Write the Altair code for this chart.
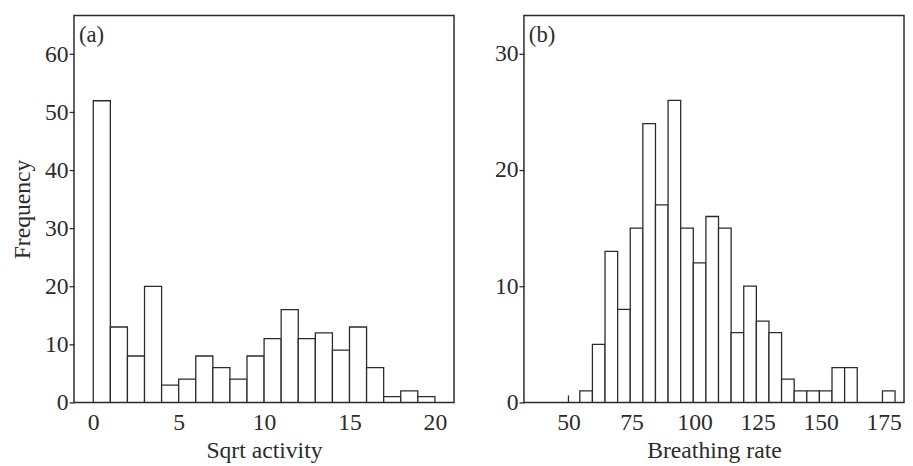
import altair as alt
import pandas as pd

FONT = "Liberation Serif"
INK = "#2b2b2b"

# ---- Panel (a): Sqrt activity, bin edges and frequencies ----
a_bin_start = [0, 1, 2, 3, 4, 5, 6, 7, 8, 9, 10, 11, 12, 13, 14, 15, 16, 17, 18, 19]
a_bin_end = [1, 2, 3, 4, 5, 6, 7, 8, 9, 10, 11, 12, 13, 14, 15, 16, 17, 18, 19, 20]
a_counts = [52, 13, 8, 20, 3, 4, 8, 6, 4, 8, 11, 16, 11, 12, 9, 13, 6, 1, 2, 1]
a_xticks = [0, 5, 10, 15, 20]
a_yticks = [0, 10, 20, 30, 40, 50, 60]

# ---- Panel (b): Breathing rate, bin edges and frequencies ----
b_bin_start = [54.5, 59.5, 64.5, 69.5, 74.5, 79.5, 84.5, 89.5, 94.5, 99.5,
               104.5, 109.5, 114.5, 119.5, 124.5, 129.5, 134.5, 139.5, 144.5,
               149.5, 154.5, 159.5, 164.5, 169.5, 174.5]
b_bin_end = [59.5, 64.5, 69.5, 74.5, 79.5, 84.5, 89.5, 94.5, 99.5, 104.5,
             109.5, 114.5, 119.5, 124.5, 129.5, 134.5, 139.5, 144.5, 149.5,
             154.5, 159.5, 164.5, 169.5, 174.5, 179.5]
b_counts = [1, 5, 13, 8, 15, 24, 17, 26, 15, 12, 16, 15, 6, 10, 7, 6, 2, 1, 1,
            1, 3, 3, 0, 0, 1]
b_stray_x = [50]
b_stray_h = [0.6]
b_xticks = [50, 75, 100, 125, 150, 175]
b_yticks = [0, 10, 20, 30]

W, H = 386, 393


def panel(starts, ends, counts, xdom, ydom, xticks, yticks, xtitle, ytitle, tag,
          stray=None):
    df = pd.DataFrame({"start": starts, "end": ends, "count": counts})
    df = df[df["count"] > 0]
    x_axis = alt.Axis(values=xticks, title=xtitle, ticks=False, tickSize=0,
                      labelPadding=8, titlePadding=5)
    y_axis = alt.Axis(values=yticks, title=ytitle, tickSize=5, labelPadding=1,
                      titlePadding=10)
    bars = alt.Chart(df).mark_rect(fill="white", stroke=INK, strokeWidth=1.3).encode(
        x=alt.X("start:Q", scale=alt.Scale(domain=xdom, nice=False, zero=False),
                axis=x_axis),
        x2="end:Q",
        y=alt.Y("count:Q", scale=alt.Scale(domain=ydom, nice=False), axis=y_axis),
        y2=alt.datum(0),
    )
    label = alt.Chart(pd.DataFrame({"t": [tag]})).mark_text(
        align="left", baseline="top", font=FONT, fontSize=23, color=INK
    ).encode(x=alt.value(5), y=alt.value(9), text="t:N")
    layers = [bars, label]
    if stray is not None:
        sdf = pd.DataFrame({"x": stray[0], "h": stray[1]})
        rule = alt.Chart(sdf).mark_rule(color=INK, strokeWidth=1.3).encode(
            x="x:Q", y="h:Q", y2=alt.datum(0)
        )
        layers.append(rule)
    return alt.layer(*layers).properties(width=W, height=H)


chart_a = panel(a_bin_start, a_bin_end, a_counts, [-1.13, 21.12], [0, 66.7],
                a_xticks, a_yticks, "Sqrt activity", "Frequency", "(a)")
chart_b = panel(b_bin_start, b_bin_end, b_counts, [32.35, 183.05], [0, 33.3],
                b_xticks, b_yticks, "Breathing rate", None, "(b)",
                stray=(b_stray_x, b_stray_h))

chart = alt.hconcat(chart_a, chart_b, spacing=39).properties(
    padding={"left": 2, "top": 3, "right": 0, "bottom": 0}
).configure_view(
    stroke=INK, strokeWidth=1.5
).configure_axis(
    domain=False, grid=False,
    labelFont=FONT, labelFontSize=24, labelColor=INK,
    titleFont=FONT, titleFontSize=24, titleFontWeight="normal", titleColor=INK,
    tickColor=INK, tickWidth=1.3,
)

chart.save("out.html", embed_options={"renderer": "svg", "actions": False})
